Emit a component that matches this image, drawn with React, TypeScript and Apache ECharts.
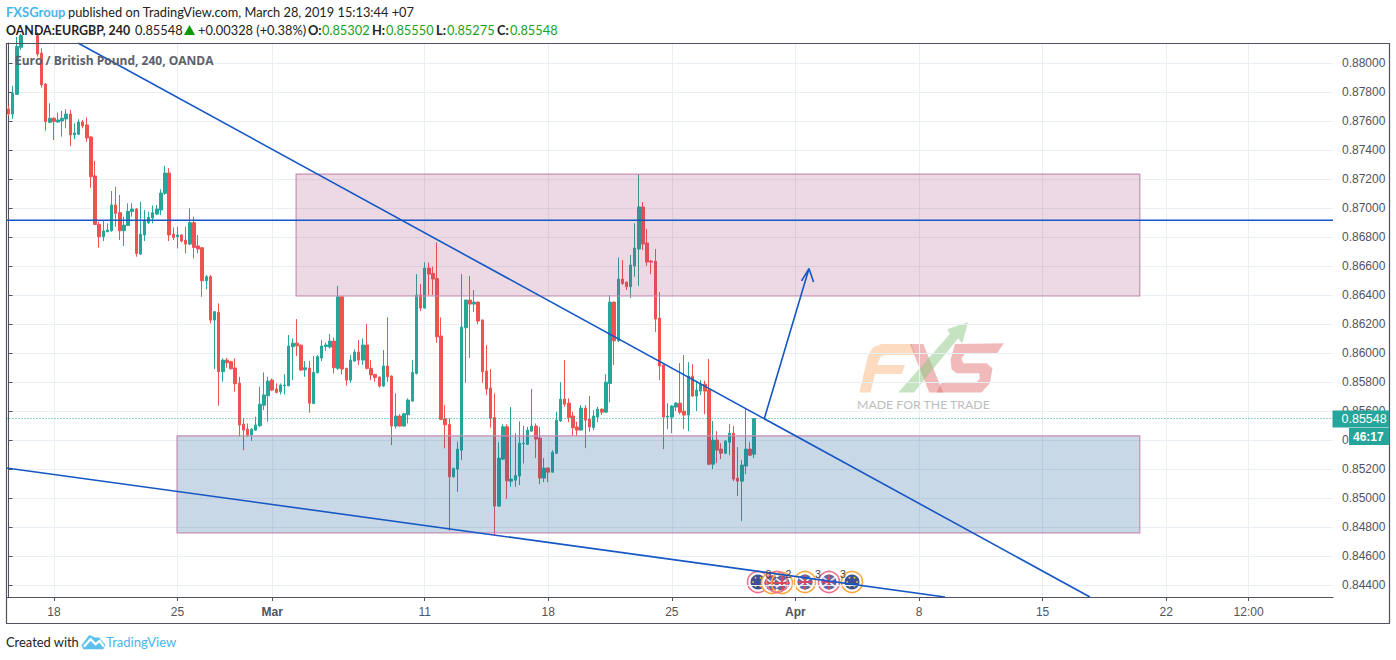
import React, { useEffect, useRef } from "react";
import * as echarts from "echarts";

const opens = [
  87683, 87648, 87784, 88108, 88200, 88300, 88400, 88190, 88067, 87855,
  87591, 87619, 87593, 87600, 87614, 87648, 87504, 87508, 87593, 87573,
  87490, 87221, 86887, 86802, 86836, 86843, 87021, 86968, 86843, 86880,
  86975, 86993, 86682, 86814, 86899, 86931, 86958, 86986, 87101, 87241,
  86820, 86802, 86814, 86779, 86751, 86899, 86738, 86726, 86498, 86526,
  86227, 86280, 85871, 85951, 85940, 85896, 85792, 85510, 85475, 85434,
  85468, 85498, 85640, 85705, 85813, 85751, 85733, 85774, 85774, 86043,
  86068, 86054, 85884, 85896, 85652, 85864, 85965, 86045, 86041, 86082,
  85894, 86388, 85894, 85813, 85944, 86006, 85951, 86055, 85894, 85852,
  85834, 85772, 85910, 85841, 85496, 85565, 85496, 85574, 85668, 85859,
  86400, 86310, 86586, 86549, 86514, 86117, 85546, 85507, 85146, 85199,
  85330, 86174, 86365, 86337, 86351, 86227, 85875, 85758, 85555, 84944,
  85268, 85491, 85116, 85123, 85151, 85374, 85371, 85461, 85496, 85413,
  85137, 85206, 85178, 85309, 85532, 85682, 85654, 85565, 85489, 85468,
  85620, 85544, 85486, 85558, 85613, 85592, 85790, 86351, 86084, 86510,
  86489, 86457, 86600, 86717, 87007, 86758, 86634, 86634, 86241, 85917,
  85558, 85558, 85627, 85654, 85599, 85572, 85840, 85703, 85737, 85785,
  85744, 85233, 85399, 85337, 85309, 85385, 85447, 85137, 85116, 85220,
  85337, 85302,
];
const closes = [
  87648, 87791, 88113, 88190, 88300, 88400, 88200, 88062, 87849, 87596,
  87619, 87596, 87607, 87619, 87648, 87504, 87517, 87593, 87566, 87483,
  87216, 86887, 86802, 86841, 86848, 87021, 86963, 86843, 86882, 86977,
  86993, 86687, 86820, 86917, 86935, 86968, 86993, 87103, 87241, 86814,
  86797, 86814, 86772, 86751, 86899, 86728, 86717, 86498, 86526, 86227,
  86285, 85871, 85951, 85933, 85891, 85788, 85503, 85468, 85434, 85475,
  85503, 85647, 85710, 85806, 85744, 85728, 85779, 85779, 86048, 86068,
  86050, 85882, 85898, 85654, 85866, 85974, 86048, 86055, 86082, 85898,
  86388, 85889, 85813, 85951, 86006, 85951, 86055, 85894, 85848, 85831,
  85772, 85910, 85836, 85496, 85565, 85496, 85581, 85675, 85866, 86400,
  86310, 86586, 86544, 86510, 86112, 85542, 85505, 85146, 85203, 85337,
  86179, 86365, 86337, 86351, 86220, 85871, 85751, 85549, 84944, 85275,
  85491, 85118, 85130, 85155, 85378, 85378, 85468, 85496, 85406, 85137,
  85206, 85178, 85316, 85537, 85682, 85647, 85555, 85484, 85468, 85620,
  85537, 85489, 85565, 85613, 85592, 85799, 86351, 86084, 86510, 86480,
  86457, 86607, 86724, 87007, 86751, 86627, 86627, 86234, 85910, 85558,
  85565, 85634, 85654, 85592, 85572, 85840, 85703, 85744, 85785, 85737,
  85233, 85399, 85330, 85309, 85392, 85447, 85130, 85116, 85227, 85337,
  85295, 85548,
];
const lows = [
  87635, 87614, 87780, 88090, 88180, 88280, 88160, 88044, 87830, 87533,
  87584, 87469, 87589, 87492, 87550, 87428, 87474, 87504, 87550, 87457,
  87140, 86882, 86726, 86772, 86836, 86836, 86871, 86779, 86738, 86875,
  86940, 86664, 86676, 86772, 86889, 86894, 86951, 86951, 87090, 86772,
  86779, 86721, 86763, 86687, 86744, 86652, 86687, 86388, 86439, 86204,
  85889, 85636, 85802, 85898, 85887, 85733, 85422, 85330, 85422, 85394,
  85463, 85491, 85606, 85526, 85737, 85721, 85714, 85716, 85770, 85813,
  85979, 85877, 85836, 85588, 85647, 85859, 85944, 86015, 86031, 85859,
  85882, 85852, 85774, 85795, 85940, 85917, 85917, 85887, 85813, 85802,
  85760, 85767, 85802, 85365, 85480, 85491, 85491, 85514, 85664, 85852,
  86289, 86305, 86400, 86400, 86071, 85537, 85342, 84773, 85141, 85043,
  85261, 85795, 85965, 86282, 86199, 85795, 85710, 85486, 84744, 84939,
  85261, 84994, 85077, 85077, 85089, 85238, 85365, 85456, 85275, 85095,
  85109, 85109, 85175, 85302, 85525, 85629, 85523, 85427, 85427, 85464,
  85344, 85457, 85468, 85523, 85572, 85588, 85661, 85917, 86075, 86469,
  86434, 86379, 86526, 86462, 86710, 86600, 86544, 86144, 85813, 85337,
  85475, 85447, 85599, 85578, 85475, 85461, 85698, 85599, 85710, 85578,
  85226, 85199, 85240, 85268, 85302, 85295, 85116, 85013, 84840, 85164,
  85290, 85275,
];
const highs = [
  87706, 87842, 88180, 88200, 88350, 88420, 88420, 88210, 88101, 87860,
  87722, 87625, 87658, 87669, 87681, 87676, 87584, 87612, 87607, 87625,
  87495, 87324, 86905, 86910, 86894, 87117, 87147, 87090, 86940, 87032,
  87032, 87000, 87043, 86986, 86975, 87016, 87021, 87129, 87290, 87274,
  86866, 86871, 86818, 86871, 86998, 86940, 86814, 86730, 86538, 86538,
  86290, 86342, 85963, 85967, 85946, 85963, 85836, 85549, 85514, 85480,
  85560, 85767, 85866, 85836, 85824, 85790, 85790, 85854, 86124, 86100,
  86234, 86060, 85944, 85944, 85979, 85985, 86089, 86071, 86130, 86107,
  86462, 86392, 85898, 85985, 86025, 86089, 86100, 86199, 85951, 85856,
  85838, 86020, 86245, 85845, 85721, 85578, 85583, 85687, 85951, 86544,
  86475, 86625, 86625, 86595, 86763, 86245, 85640, 85549, 85210, 85388,
  86544, 86370, 86531, 86434, 86355, 86231, 86054, 85889, 85721, 85385,
  85509, 85509, 85627, 85447, 85528, 85496, 85491, 85751, 85514, 85491,
  85275, 85210, 85330, 85595, 85799, 85951, 85687, 85595, 85526, 85640,
  85640, 85703, 85606, 85629, 85617, 85854, 86400, 86355, 86659, 86641,
  86492, 86676, 86894, 87234, 87041, 86855, 86641, 86717, 86420, 85921,
  85654, 85640, 85661, 85930, 85986, 85937, 85923, 85808, 85813, 85808,
  85958, 85530, 85461, 85378, 85399, 85509, 85496, 85351, 85261, 85613,
  85385, 85550,
];

const PRICE_UNIT = 100000;
const BAND_COUNT = 322;
const Y_MIN = 0.84317;
const Y_MAX = 0.88138;
const yTicks = [0.844, 0.846, 0.848, 0.85, 0.852, 0.854, 0.856, 0.858, 0.86, 0.862, 0.864, 0.866, 0.868, 0.87, 0.872, 0.874, 0.876, 0.878, 0.88];
const xTickIndex = [11, 41, 64, 101, 131, 161, 191, 221, 251, 281, 301];
const xTickLabels = ["18", "25", "Mar", "11", "18", "25", "Apr", "8", "15", "22", "12:00"];
const lastPrice = 0.85548;

// annotation drawings, in (candle index, price)
const pinkZone = [69.8, 274.6, 0.86393, 0.87234];
const blueZone = [40.9, 274.6, 0.84759, 0.85428];
const resistance = [[-0.5, 0.86915], [321.5, 0.86915]];
const fallingLine = [[16.85, 0.88138], [262.5, 0.84317]];
const lowerLine = [[-0.5, 0.85207], [227.3, 0.84317]];
const arrowLine = [[183.5, 0.85552], [194.3, 0.86582], [192.5, 0.86497], [194.3, 0.86582], [195.4, 0.86490]];

const LINE_BLUE = "#1557c4";
const AXIS_TEXT = "#50535e";
const TEXT_FONT = "Lato";
const SKY = "#46b6ea";
const GREEN_VAL = "#20a020";

function txt(x: number, y: number, text: string, fill: string, fontSize = 12.8, fontWeight: any = "normal", family = TEXT_FONT, extra: any = {}) {
  return {
    type: "text",
    x,
    y,
    z: 50,
    silent: true,
    style: { text, fill, fontSize, fontWeight, fontFamily: family, verticalAlign: "middle", ...extra },
  };
}

function poly(points: number[][], fill: string) {
  return { type: "polygon", shape: { points }, style: { fill } };
}

function euIcon(cx: number, cy: number, ring: string) {
  const stars = [0, 60, 120, 180, 240, 300].map((a) => ({
    type: "circle",
    shape: { cx: cx + 5 * Math.cos((a * Math.PI) / 180), cy: cy + 5 * Math.sin((a * Math.PI) / 180), r: 0.9 },
    style: { fill: "#e8c93a" },
  }));
  return [
    { type: "circle", shape: { cx, cy, r: 10.5 }, style: { fill: "#fff", stroke: ring, lineWidth: 1.6 } },
    { type: "circle", shape: { cx, cy, r: 7.5 }, style: { fill: "#3f4f94" } },
    ...stars,
  ];
}

function ukIcon(cx: number, cy: number, ring: string, inner = true) {
  const c: any[] = [
    { type: "circle", shape: { cx, cy, r: 10.5 }, style: { fill: inner ? "#fff" : "rgba(255,255,255,0)", stroke: ring, lineWidth: 1.6 } },
    { type: "circle", shape: { cx, cy, r: 7.5 }, style: { fill: "#5a68a8" } },
    { type: "line", shape: { x1: cx - 6, y1: cy - 4.5, x2: cx + 6, y2: cy + 4.5 }, style: { stroke: "#f2e6ea", lineWidth: 1.6 } },
    { type: "line", shape: { x1: cx - 6, y1: cy + 4.5, x2: cx + 6, y2: cy - 4.5 }, style: { stroke: "#f2e6ea", lineWidth: 1.6 } },
    { type: "line", shape: { x1: cx, y1: cy - 7.5, x2: cx, y2: cy + 7.5 }, style: { stroke: "#d9475f", lineWidth: 2 } },
    { type: "line", shape: { x1: cx - 7.5, y1: cy, x2: cx + 7.5, y2: cy }, style: { stroke: "#d9475f", lineWidth: 2 } },
  ];
  return c;
}

export default function App() {
  const ref = useRef<HTMLDivElement>(null);
  useEffect(() => {
    document.body.style.margin = "0";
    const chart = echarts.init(ref.current!, undefined, { renderer: "svg" });
    const candles = opens.map((o, i) => [o / PRICE_UNIT, closes[i] / PRICE_UNIT, lows[i] / PRICE_UNIT, highs[i] / PRICE_UNIT]);
    const lineSeries = (data: number[][], width = 1.6, color = LINE_BLUE, type: any = "solid") => ({
      type: "line",
      xAxisIndex: 1,
      yAxisIndex: 0,
      data,
      symbol: "none",
      silent: true,
      z: 6,
      lineStyle: { color, width, type },
    });
    chart.setOption({
      animation: false,
      backgroundColor: "#ffffff",
      grid: { left: 6.5, right: 63, top: 43, bottom: 63 },
      xAxis: [
        {
          type: "category",
          show: false,
          data: Array.from({ length: BAND_COUNT }, (_, i) => String(i)),
          boundaryGap: true,
        },
        {
          type: "value",
          min: -0.5,
          max: BAND_COUNT - 0.5,
          position: "bottom",
          axisLine: { show: true, onZero: false, lineStyle: { color: "#50535e", width: 1 } },
          axisTick: { show: true, length: 4, lineStyle: { color: "#50535e" }, customValues: xTickIndex },
          splitLine: { show: true, lineStyle: { color: "#e8f0f5", width: 1 } },
          axisLabel: {
            customValues: xTickIndex,
            margin: 9,
            fontFamily: "Liberation Sans",
            fontSize: 12,
            color: AXIS_TEXT,
            formatter: (v: number) => {
              const s = xTickLabels[xTickIndex.indexOf(v)] ?? "";
              return s === "Mar" || s === "Apr" ? `{b|${s}}` : s;
            },
            rich: { b: { fontWeight: "bold", fontFamily: "Liberation Sans", fontSize: 12, color: AXIS_TEXT } },
          },
        },
      ],
      yAxis: {
        type: "value",
        position: "right",
        min: Y_MIN,
        max: Y_MAX,
        scale: true,
        axisLine: { show: true, lineStyle: { color: "#50535e", width: 1 } },
        axisTick: { show: true, length: 4, lineStyle: { color: "#50535e" }, customValues: yTicks },
        splitLine: { show: true, lineStyle: { color: "#e8f0f5", width: 1 } },
        axisLabel: {
          customValues: yTicks,
          margin: 9,
          fontFamily: "Liberation Sans",
          fontSize: 12,
          color: AXIS_TEXT,
          formatter: (v: number) => v.toFixed(5),
        },
      },
      series: [
        {
          type: "candlestick",
          xAxisIndex: 0,
          yAxisIndex: 0,
          data: candles,
          barWidth: 3,
          clip: true,
          silent: true,
          z: 3,
          itemStyle: { color: "#26a69a", color0: "#ef5350", borderColor: "#26a69a", borderColor0: "#ef5350", borderWidth: 1 },
        },
        {
          type: "custom",
          xAxisIndex: 1,
          yAxisIndex: 0,
          silent: true,
          z: 5,
          data: [
            [...pinkZone, 0],
            [...blueZone, 1],
          ],
          encode: { x: [0, 1], y: [2, 3] },
          renderItem: (_: any, api: any) => {
            const a = api.coord([api.value(0), api.value(3)]);
            const b = api.coord([api.value(1), api.value(2)]);
            const isBlue = api.value(4) === 1;
            return {
              type: "rect",
              shape: { x: a[0], y: a[1], width: b[0] - a[0], height: b[1] - a[1] },
              style: {
                fill: isBlue ? "rgba(30,92,151,0.24)" : "rgba(160,65,115,0.2)",
                stroke: "#c58fb2",
                lineWidth: 1.2,
              },
            };
          },
        },
        lineSeries([[-0.5, lastPrice], [BAND_COUNT - 0.5, lastPrice]], 1, "#26a69a", [1, 2]),
        lineSeries(resistance),
        lineSeries(fallingLine),
        lineSeries(lowerLine),
        lineSeries(arrowLine),
      ],
      graphic: [
        // outer frame
        { type: "rect", z: 40, silent: true, shape: { x: 6.5, y: 43.5, width: 1383, height: 580 }, style: { fill: "none", stroke: "#50535e", lineWidth: 1.2 } },
        // price flag
        { type: "rect", z: 41, silent: true, shape: { x: 1332.5, y: 410.5, width: 57, height: 17 }, style: { fill: "#26a69a" } },
        { type: "rect", z: 41, silent: true, shape: { x: 1349, y: 428, width: 40.5, height: 17 }, style: { fill: "#26a69a" } },
        txt(1341.5, 419, "0.85548", "#ffffff", 12.5, "normal", "Liberation Sans"),
        txt(1353, 436.5, "46:17", "#ffffff", 12, "bold", "Liberation Sans"),
        // header
        txt(6, 12, "FXSGroup", SKY, 13, "bold"),
        txt(68, 12, "published on TradingView.com, March 28, 2019 15:13:44 +07", "#222222", 12.8),
        txt(6, 30, "OANDA:EURGBP, 240", "#222222", 12.4, "bold"),
        txt(135, 30, "0.85548", "#222222", 12.8),
        { type: "polygon", z: 50, silent: true, shape: { points: [[184, 35], [195, 35], [189.5, 25]] }, style: { fill: "#0c9a0c" } },
        txt(198, 30, "+0.00328 (+0.38%)", "#222222", 12.8),
        txt(308, 30, "O:", "#222222", 12.8, "bold"),
        txt(322, 30, "0.85302", GREEN_VAL, 12.8),
        txt(372, 30, "H:", "#222222", 12.8, "bold"),
        txt(386, 30, "0.85550", GREEN_VAL, 12.8),
        txt(436, 30, "L:", "#222222", 12.8, "bold"),
        txt(447, 30, "0.85275", GREEN_VAL, 12.8),
        txt(497, 30, "C:", "#222222", 12.8, "bold"),
        txt(510, 30, "0.85548", GREEN_VAL, 12.8),
        txt(15, 60, "Euro / British Pound, 240, OANDA", "#5d606b", 12, "bold", "Open Sans"),
        // footer
        txt(6, 642, "Created with", "#222222", 12.9),
        {
          type: "group",
          x: 0,
          y: 590,
          scaleX: 1 / 3,
          scaleY: 1 / 3,
          z: 50,
          silent: true,
          children: [
            poly([[245, 165], [268, 135], [285, 143], [298, 143], [317, 165], [310, 178], [250, 178]], "#5cc0ea"),
            { type: "polyline", shape: { points: [[252, 170], [272, 148], [287, 163], [299, 153], [312, 170]] }, style: { stroke: "#ffffff", lineWidth: 7, fill: "none" } },
          ],
        },
        txt(106, 642, "TradingView", SKY, 13),
        // watermark
        {
          type: "group",
          x: 840,
          y: 310,
          scaleX: 1 / 3,
          scaleY: 1 / 3,
          z: 2,
          silent: true,
          children: [
            poly([[58, 248], [85, 135], [100, 112], [125, 102], [215, 102], [228, 135], [135, 135], [122, 140], [112, 165], [195, 165], [185, 192], [105, 192], [92, 248]], "rgba(250,190,140,0.55)"),
            poly([[210, 102], [250, 102], [310, 248], [268, 248]], "rgba(225,110,110,0.48)"),
            poly([[345, 102], [492, 100], [470, 132], [375, 132], [365, 145], [370, 160], [440, 160], [458, 175], [450, 220], [425, 248], [290, 248], [305, 218], [410, 218], [420, 205], [418, 190], [350, 190], [335, 178], [332, 150]], "rgba(225,110,110,0.48)"),
            poly([[175, 248], [330, 72], [322, 58], [385, 36], [367, 100], [355, 85], [222, 248]], "rgba(140,200,130,0.5)"),
          ],
        },
        txt(857, 404, "MADE FOR THE TRADE", "#bdbdbd", 12.3, "normal", "Lato"),
        // events
        {
          type: "group",
          z: 30,
          silent: true,
          children: [
            ...euIcon(758, 582, "#f2708f"),
            ...ukIcon(772, 583, "#f7a941"),
            ...ukIcon(782, 583, "#f7a941", false),
            ...ukIcon(805, 582, "#f7a941"),
            ...ukIcon(829, 582, "#f2708f"),
            ...euIcon(852, 582, "#f7a941"),
            { type: "circle", shape: { cx: 777, cy: 582, r: 10.5 }, style: { fill: "none", stroke: "#f2708f", lineWidth: 1.6 } },
          ],
        },
        txt(765.5, 574, "8", "#444", 10.5, "normal", "Liberation Sans"),
        txt(785.5, 574, "2", "#444", 10.5, "normal", "Liberation Sans"),
        txt(815, 574, "3", "#444", 10.5, "normal", "Liberation Sans"),
        txt(840, 574, "3", "#444", 10.5, "normal", "Liberation Sans"),
      ],
    });
    return () => chart.dispose();
  }, []);
  return <div ref={ref} style={{ position: "absolute", left: 0, top: 0, width: 1396, height: 660 }} />;
}
